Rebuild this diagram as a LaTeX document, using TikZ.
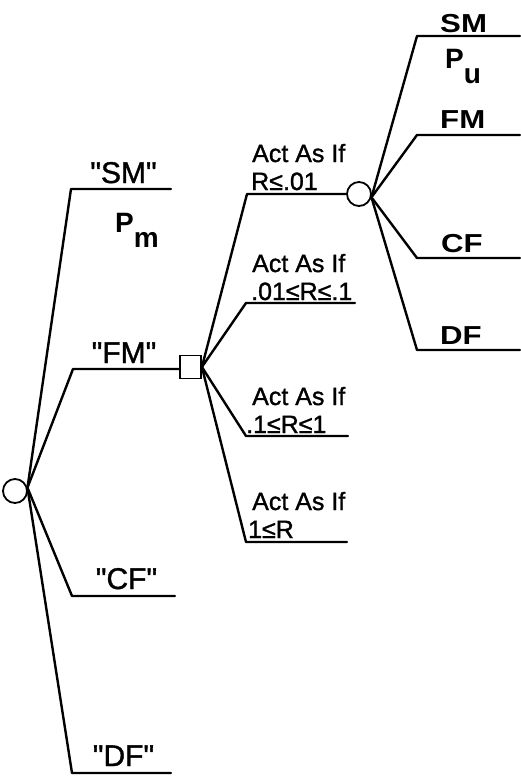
\documentclass[tikz,border=0pt]{standalone}
\usepackage{fontspec}
\setmainfont[FakeBold=1.2]{Liberation Sans}
\newfontfamily\qfont[FakeBold=1.2,Ligatures=TeXOff]{Liberation Sans}
\newfontfamily\widefont[FakeStretch=1.2]{Liberation Sans}
\newfontfamily\boldfont{Liberation Sans Bold}
\begin{document}
\begin{tikzpicture}[x=1pt,y=-1pt,
  branch/.style={line width=2.4pt,line join=round,line cap=round},
  chance/.style={circle,draw,line width=1.8pt,minimum size=24pt,inner sep=0pt},
  decision/.style={rectangle,draw,line width=1.8pt,minimum width=21pt,minimum height=23pt,inner sep=0pt},
  actlbl/.style={anchor=base west,inner sep=0pt,font=\fontsize{25}{28}\selectfont},
  leftlbl/.style={anchor=base,inner sep=0pt,font=\qfont\fontsize{30}{32}\selectfont},
  rightlbl/.style={anchor=base west,inner sep=0pt,font=\widefont\bfseries\fontsize{26}{28}\selectfont},
  plbl/.style={anchor=base west,inner sep=0pt,font=\boldfont\fontsize{28}{30}\selectfont}]
\useasboundingbox (0,0) rectangle (520,777);

% decision and chance nodes
\node[chance] (c0) at (15,491) {};
\node[decision] (sq) at (190.5,367) {};
\node[chance] (c1) at (359,194) {};

% left branch points
\coordinate (smc) at (71,189);  \coordinate (sme) at (171,189);
\coordinate (fmc) at (73,369);
\coordinate (cfc) at (72,596);  \coordinate (cfe) at (175,596);
\coordinate (dfc) at (72,773);  \coordinate (dfe) at (171,773);

\draw[branch] (c0.15) -- (smc) -- (sme);
\draw[branch] (c0.15) -- (fmc) -- (fmc -| sq.west);
\draw[branch] (c0.15) -- (cfc) -- (cfe);
\draw[branch] (c0.15) -- (dfc) -- (dfe);

% middle branch points
\coordinate (a1c) at (247,194);
\coordinate (a2c) at (246,303);  \coordinate (a2e) at (355,303);
\coordinate (a3c) at (246,436);  \coordinate (a3e) at (348,436);
\coordinate (a4c) at (246,542);  \coordinate (a4e) at (347,542);

\draw[branch] (sq.east) -- (a1c) -- (c1.west);
\draw[branch] (sq.east) -- (a2c) -- (a2e);
\draw[branch] (sq.east) -- (a3c) -- (a3e);
\draw[branch] (sq.east) -- (a4c) -- (a4e);

% right branch points
\coordinate (r1c) at (417,36);   \coordinate (r1e) at (520,36);
\coordinate (r2c) at (417,135);  \coordinate (r2e) at (520,135);
\coordinate (r3c) at (417,258);  \coordinate (r3e) at (520,258);
\coordinate (r4c) at (417,350);  \coordinate (r4e) at (520,350);

\draw[branch] (c1.-15) -- (r1c) -- (r1e);
\draw[branch] (c1.-15) -- (r2c) -- (r2e);
\draw[branch] (c1.-15) -- (r3c) -- (r3e);
\draw[branch] (c1.-15) -- (r4c) -- (r4e);

% left labels
\node[leftlbl] (lsm) at (123.5,183) {"SM"};
\node[plbl] (pm) at (115,232) {P\raisebox{-15pt}{m}};
\node[leftlbl] (lfm) at (124,363) {"FM"};
\node[leftlbl] (lcf) at (126.5,589) {"CF"};
\node[leftlbl] (ldf) at (123.5,766) {"DF"};

% middle labels
\node[actlbl] (act1) at (252,162) {Act As If};
\node[actlbl] (cond1) at (251,190) {R≤.01};
\node[actlbl] (act2) at (252,272) {Act As If};
\node[actlbl] (cond2) at (251,300) {.01≤R≤.1};
\node[actlbl] (act3) at (252,405) {Act As If};
\node[actlbl] (cond3) at (246,433) {.1≤R≤1};
\node[actlbl] (act4) at (252,510) {Act As If};
\node[actlbl] (cond4) at (248,538) {1≤R};

% right labels
\node[rightlbl] (rsm) at (440,32) {SM};
\node[plbl] (pu) at (445,68) {P\raisebox{-15pt}{u}};
\node[rightlbl] (rfm) at (440,128) {FM};
\node[rightlbl] (rcf) at (441,252) {CF};
\node[rightlbl] (rdf) at (440,344) {DF};
\end{tikzpicture}
\end{document}
